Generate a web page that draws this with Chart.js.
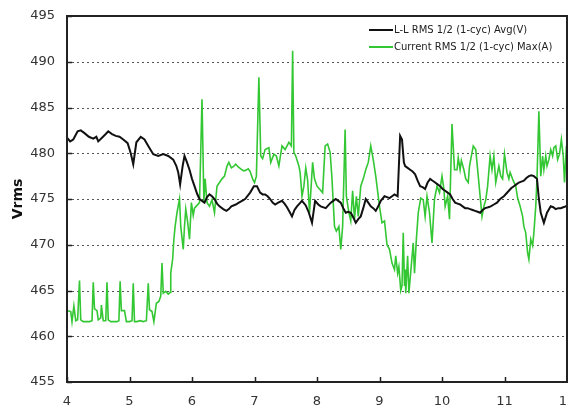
<!DOCTYPE html>
<html>
<head>
<meta charset="utf-8">
<script src="https://cdn.jsdelivr.net/npm/chart.js@4.4.1/dist/chart.umd.min.js"></script>
<style>
  html, body { margin: 0; padding: 0; background: #fff; }
</style>
</head>
<body>
<canvas id="chart" width="568" height="418"></canvas>
<script>
// L-L RMS voltage (black)
const voltageTime = [
  4.00, 4.05, 4.10, 4.17, 4.22, 4.28, 4.35, 4.42, 4.47, 4.50, 4.56, 4.62, 4.66, 4.72, 4.78, 4.84, 4.90, 4.97,
  5.02, 5.06, 5.11, 5.18, 5.24, 5.30, 5.38, 5.46, 5.54, 5.62, 5.70, 5.75, 5.78, 5.81, 5.85, 5.88, 5.92, 5.96,
  6.00, 6.04, 6.08, 6.12, 6.16, 6.20, 6.24, 6.28, 6.32, 6.36, 6.40, 6.44, 6.50, 6.55, 6.59, 6.63, 6.70, 6.75,
  6.80, 6.85, 6.93, 6.99, 7.04, 7.09, 7.13, 7.17, 7.21, 7.25, 7.29, 7.33, 7.38, 7.44, 7.48, 7.52, 7.56, 7.60,
  7.64, 7.68, 7.72, 7.76, 7.82, 7.87, 7.92, 7.97, 8.02, 8.06, 8.14, 8.18, 8.22, 8.26, 8.30, 8.34, 8.38, 8.42,
  8.46, 8.50, 8.54, 8.58, 8.62, 8.66, 8.70, 8.74, 8.78, 8.82, 8.86, 8.90, 8.94, 8.98, 9.02, 9.08, 9.12, 9.16,
  9.20, 9.24, 9.29, 9.33, 9.36, 9.39, 9.41, 9.45, 9.49, 9.53, 9.57, 9.61, 9.65, 9.69, 9.73, 9.77, 9.81, 9.85,
  9.89, 9.93, 9.97, 10.01, 10.05, 10.09, 10.13, 10.17, 10.21, 10.25, 10.29, 10.33, 10.37, 10.41, 10.45, 10.49,
  10.53, 10.57, 10.61, 10.65, 10.69, 10.74, 10.78, 10.83, 10.88, 10.93, 10.99, 11.03, 11.07, 11.11, 11.15,
  11.19, 11.23, 11.27, 11.31, 11.35, 11.39, 11.43, 11.47, 11.52, 11.55, 11.58, 11.63, 11.68, 11.74, 11.78,
  11.82, 11.86, 11.90, 11.94, 11.98, 12.00
];
const voltageRms = [
  481.7, 481.3, 481.5, 482.4, 482.5, 482.2, 481.8, 481.6, 481.8, 481.3, 481.7, 482.1, 482.4, 482.1, 481.9, 481.8, 481.5, 481.1,
  480.0, 478.8, 481.2, 481.8, 481.5, 480.8, 479.9, 479.7, 479.9, 479.7, 479.3, 478.6, 477.9, 476.6, 478.6, 479.7, 479.0, 478.2,
  477.2, 476.4, 475.6, 475.0, 474.8, 474.6, 475.2, 475.5, 475.3, 475.0, 474.5, 474.2, 473.9, 473.7, 473.9, 474.2, 474.4, 474.6,
  474.8, 475.0, 475.7, 476.4, 476.4, 475.7, 475.5, 475.5, 475.3, 475.0, 474.6, 474.4, 474.6, 474.8, 474.5, 474.1, 473.6, 473.1,
  473.8, 474.2, 474.5, 474.8, 474.3, 473.5, 472.4, 474.8, 474.4, 474.2, 474.0, 474.3, 474.6, 474.8, 475.0, 474.8, 474.6, 474.0,
  473.5, 473.6, 473.5, 473.0, 472.4, 472.8, 473.1, 474.0, 475.0, 474.6, 474.2, 474.0, 473.7, 474.2, 474.8, 475.3, 475.2, 475.1,
  475.3, 475.5, 475.3, 481.9, 481.5, 479.0, 478.6, 478.4, 478.2, 478.0, 477.7, 477.0, 476.4, 476.3, 476.1, 476.8, 477.2, 477.0,
  476.8, 476.6, 476.4, 476.1, 475.9, 475.7, 475.5, 475.0, 474.6, 474.5, 474.4, 474.2, 474.0, 474.0, 473.9, 473.8,
  473.7, 473.6, 473.5, 473.8, 474.0, 474.1, 474.2, 474.4, 474.6, 475.0, 475.3, 475.6, 475.9, 476.2, 476.4,
  476.6, 476.8, 476.9, 477.0, 477.3, 477.5, 477.6, 477.5, 477.2, 475.0, 473.5, 472.4, 473.5, 474.2, 474.1,
  473.9, 474.0, 474.0, 474.1, 474.2, 474.3
];

// Current RMS (green)
const currentTime = [
  4.00, 4.06, 4.08, 4.11, 4.14, 4.17, 4.20, 4.22, 4.26, 4.30, 4.36, 4.40, 4.42, 4.44, 4.48, 4.50, 4.54, 4.55,
  4.58, 4.62, 4.64, 4.66, 4.70, 4.75, 4.80, 4.83, 4.85, 4.87, 4.92, 4.95, 5.00, 5.04, 5.06, 5.08, 5.12, 5.17,
  5.22, 5.27, 5.30, 5.32, 5.36, 5.39, 5.43, 5.47, 5.50, 5.52, 5.54, 5.58, 5.62, 5.65, 5.66, 5.69, 5.71, 5.73,
  5.76, 5.80, 5.82, 5.86, 5.88, 5.90, 5.93, 5.96, 5.99, 6.02, 6.04, 6.08, 6.12, 6.16, 6.19, 6.21, 6.24, 6.28,
  6.32, 6.36, 6.40, 6.44, 6.48, 6.52, 6.56, 6.59, 6.63, 6.67, 6.70, 6.74, 6.78, 6.82, 6.85, 6.90, 6.93, 6.97,
  7.00, 7.03, 7.07, 7.10, 7.13, 7.17, 7.23, 7.26, 7.31, 7.35, 7.39, 7.44, 7.49, 7.55, 7.59, 7.61, 7.63, 7.66,
  7.71, 7.73, 7.76, 7.79, 7.82, 7.85, 7.88, 7.90, 7.93, 7.96, 8.00, 8.04, 8.09, 8.13, 8.17, 8.21, 8.24, 8.28,
  8.31, 8.35, 8.38, 8.41, 8.45, 8.47, 8.51, 8.54, 8.57, 8.60, 8.63, 8.66, 8.70, 8.74, 8.78, 8.82, 8.86, 8.90,
  8.94, 9.00, 9.04, 9.08, 9.12, 9.16, 9.20, 9.24, 9.26, 9.29, 9.31, 9.34, 9.36, 9.38, 9.40, 9.41, 9.42, 9.45,
  9.47, 9.54, 9.56, 9.59, 9.62, 9.66, 9.70, 9.73, 9.76, 9.80, 9.84, 9.88, 9.92, 9.96, 10.00, 10.03, 10.05,
  10.09, 10.12, 10.16, 10.20, 10.24, 10.26, 10.29, 10.31, 10.35, 10.38, 10.42, 10.44, 10.50, 10.54, 10.58,
  10.64, 10.67, 10.70, 10.73, 10.77, 10.80, 10.83, 10.86, 10.89, 10.91, 10.94, 10.97, 11.00, 11.04, 11.07,
  11.09, 11.14, 11.18, 11.21, 11.25, 11.29, 11.31, 11.34, 11.37, 11.39, 11.42, 11.45, 11.47, 11.50, 11.52,
  11.55, 11.58, 11.61, 11.63, 11.66, 11.68, 11.71, 11.74, 11.77, 11.79, 11.82, 11.85, 11.88, 11.91, 11.94,
  11.96, 11.99, 12.00
];
const currentRms = [
  462.8, 462.7, 461.6, 463.3, 461.7, 461.8, 466.1, 461.8, 461.6, 461.6, 461.6, 461.7, 465.9, 463.0, 462.8, 461.8, 462.0, 463.4,
  461.7, 461.7, 465.9, 461.8, 461.6, 461.6, 461.6, 461.7, 466.0, 462.8, 462.8, 461.6, 461.6, 461.7, 465.8, 461.6, 461.6, 461.7,
  461.6, 461.7, 465.8, 462.9, 462.7, 461.6, 463.6, 463.8, 464.4, 468.0, 464.7, 464.9, 464.6, 464.8, 466.9, 468.4, 470.6, 472.0,
  473.5, 475.0, 472.0, 469.5, 472.0, 473.9, 472.5, 470.6, 474.6, 473.2, 474.0, 474.3, 474.6, 485.9, 474.8, 477.2, 474.6, 474.2,
  474.9, 473.5, 476.4, 476.8, 477.2, 477.5, 478.6, 479.0, 478.4, 478.6, 478.8, 478.5, 478.3, 478.1, 478.1, 478.3, 478.0, 477.2,
  476.8, 477.5, 488.3, 479.7, 479.4, 480.4, 480.6, 479.0, 479.9, 479.7, 478.6, 480.8, 480.4, 481.2, 480.8, 491.2, 480.1, 479.7,
  478.6, 477.9, 475.3, 476.4, 478.4, 477.1, 473.5, 475.7, 479.0, 477.2, 476.4, 476.1, 475.7, 480.8, 481.0, 480.1, 477.2, 472.0,
  471.5, 472.0, 469.5, 472.0, 482.6, 475.3, 473.5, 472.6, 475.9, 472.8, 475.3, 473.1, 476.4, 477.2, 478.2, 479.0, 480.8, 479.3,
  477.5, 474.2, 472.4, 472.6, 470.0, 469.5, 468.0, 467.3, 468.8, 466.9, 467.6, 465.0, 465.5, 471.3, 465.5, 467.3, 464.7, 468.8,
  464.7, 470.2, 466.9, 470.6, 473.5, 475.1, 474.9, 473.1, 475.3, 473.5, 470.2, 475.0, 476.4, 475.7, 477.5, 476.1, 474.2,
  475.3, 472.8, 483.2, 478.2, 478.2, 479.5, 478.2, 479.2, 478.2, 477.2, 476.8, 478.6, 480.8, 480.4, 477.5,
  473.1, 474.2, 474.9, 476.4, 479.7, 478.2, 479.7, 476.8, 477.9, 478.6, 477.5, 477.2, 479.9, 477.9, 477.2,
  477.9, 477.0, 476.4, 475.1, 474.2, 473.1, 472.0, 471.3, 469.1, 468.4, 470.6, 469.9, 471.3, 474.2, 477.2,
  484.6, 477.5, 479.7, 478.2, 479.7, 478.6, 479.3, 480.4, 479.7, 480.6, 480.8, 479.3, 479.9, 481.5, 479.7,
  476.8, 480.8, 477.0
];

const seriesLabels = ['L-L RMS 1/2 (1-cyc) Avg(V)', 'Current RMS 1/2 (1-cyc) Max(A)'];
const seriesColors = ['#111111', '#33c733'];
const xRange = [4, 12];
const yRange = [455, 495];

const toPoints = (xs, ys) => xs.map((x, i) => ({ x: x, y: ys[i] }));

// dotted horizontal grid lines, drawn under the data
const dottedGrid = {
  id: 'dottedGrid',
  beforeDatasetsDraw(chart) {
    const { ctx, chartArea: a, scales } = chart;
    ctx.save();
    ctx.strokeStyle = '#555';
    ctx.lineWidth = 1;
    ctx.setLineDash([2, 3]);
    ctx.beginPath();
    scales.y.ticks.forEach(t => {
      const py = Math.round(scales.y.getPixelForValue(t.value)) + 0.5;
      ctx.moveTo(a.left, py);
      ctx.lineTo(a.right, py);
    });
    ctx.stroke();
    ctx.restore();
  }
};

// box around the plot plus the small inner tick marks
const framePlugin = {
  id: 'frame',
  afterDraw(chart) {
    const { ctx, chartArea: a, scales } = chart;
    ctx.save();
    ctx.setLineDash([]);
    ctx.strokeStyle = '#222';
    ctx.lineWidth = 2;
    ctx.strokeRect(a.left, a.top, a.right - a.left, a.bottom - a.top);
    ctx.lineWidth = 1.5;
    ctx.beginPath();
    scales.x.ticks.forEach(t => {
      const px = Math.round(scales.x.getPixelForValue(t.value)) + 0.5;
      ctx.moveTo(px, a.bottom);
      ctx.lineTo(px, a.bottom - 5);
    });
    scales.y.ticks.forEach(t => {
      const py = Math.round(scales.y.getPixelForValue(t.value)) + 0.5;
      ctx.moveTo(a.left, py);
      ctx.lineTo(a.left + 5, py);
    });
    ctx.stroke();
    ctx.restore();
  }
};

// legend in the top right corner of the plot
const legendPlugin = {
  id: 'cornerLegend',
  afterDraw(chart) {
    const ctx = chart.ctx;
    ctx.save();
    ctx.setLineDash([]);
    ctx.font = '10px "DejaVu Sans"';
    ctx.textBaseline = 'middle';
    chart.data.datasets.forEach((ds, i) => {
      const y = 30 + i * 17;
      ctx.strokeStyle = ds.borderColor;
      ctx.lineWidth = 2;
      ctx.beginPath();
      ctx.moveTo(369, y);
      ctx.lineTo(393, y);
      ctx.stroke();
      ctx.fillStyle = '#222';
      ctx.fillText(ds.label, 394, y);
    });
    ctx.restore();
  }
};

new Chart(document.getElementById('chart'), {
  type: 'line',
  data: {
    datasets: [
      {
        label: seriesLabels[0],
        data: toPoints(voltageTime, voltageRms),
        borderColor: seriesColors[0],
        borderWidth: 2,
        pointRadius: 0,
        tension: 0
      },
      {
        label: seriesLabels[1],
        data: toPoints(currentTime, currentRms),
        borderColor: seriesColors[1],
        borderWidth: 1.6,
        pointRadius: 0,
        tension: 0
      }
    ]
  },
  options: {
    responsive: false,
    devicePixelRatio: 1,
    animation: false,
    layout: { padding: { top: 16, right: 1, left: 0, bottom: 0 } },
    plugins: {
      legend: { display: false },
      tooltip: { enabled: false }
    },
    scales: {
      x: {
        type: 'linear',
        min: xRange[0],
        max: xRange[1],
        ticks: {
          stepSize: 1,
          color: '#333',
          padding: 12,
          maxRotation: 0,
          font: { family: 'DejaVu Sans', size: 13 }
        },
        grid: { drawOnChartArea: false, drawTicks: false },
        border: { color: '#222', width: 2 },
        afterFit(axis) {
          axis.height = 36;
          axis.paddingLeft = 0;
          axis.paddingRight = 0;
        }
      },
      y: {
        min: yRange[0],
        max: yRange[1],
        ticks: {
          stepSize: 5,
          color: '#333',
          padding: 12,
          font: { family: 'DejaVu Sans', size: 13 }
        },
        grid: { drawOnChartArea: false, drawTicks: false },
        border: { color: '#222', width: 2 },
        title: {
          display: true,
          text: 'Vrms',
          color: '#111',
          padding: { top: 10, bottom: 0 },
          font: { family: 'DejaVu Sans', size: 14, weight: 'bold' }
        },
        afterFit(axis) {
          axis.width = 67;
          axis.paddingTop = 0;
          axis.paddingBottom = 0;
        }
      }
    }
  },
  plugins: [dottedGrid, framePlugin, legendPlugin]
});
</script>
</body>
</html>
